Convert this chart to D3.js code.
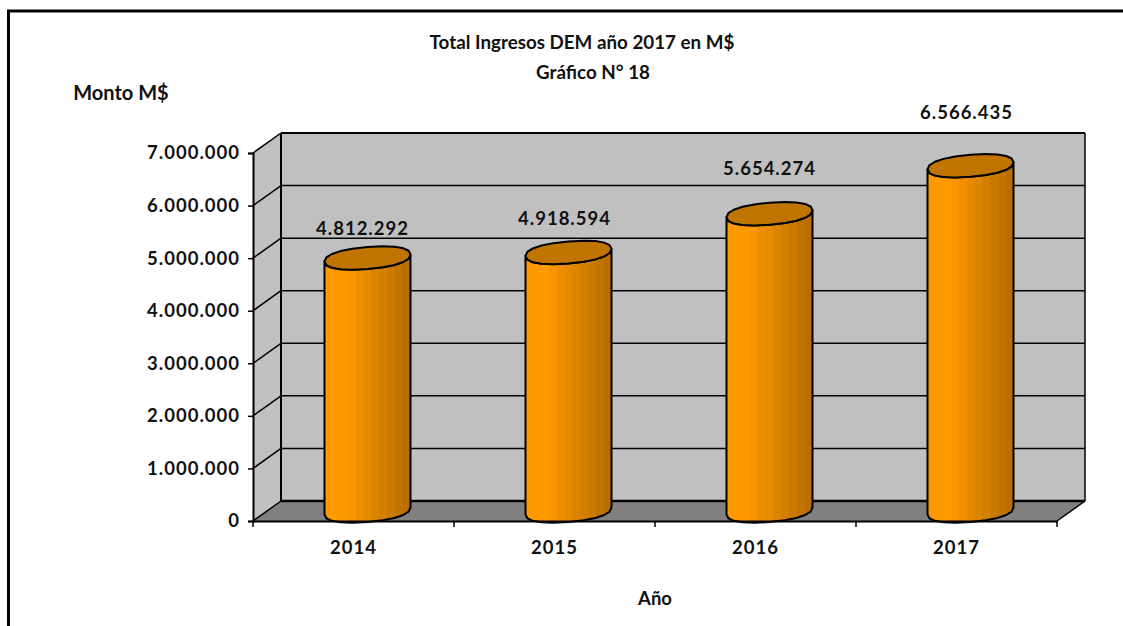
<!DOCTYPE html>
<html>
<head>
<meta charset="utf-8">
<script src="https://cdn.jsdelivr.net/npm/d3@7"></script>
<style>
  html, body { margin: 0; padding: 0; background: #fff; overflow: hidden; }
  text { font-family: Lato, "Open Sans", sans-serif; font-weight: 700; fill: #111; }
</style>
</head>
<body>
<div id="chart"></div>
<script>
const years = ["2014", "2015", "2016", "2017"];
const ingresos = [4812292, 4918594, 5654274, 6566435];
const yTicks = [0, 1000000, 2000000, 3000000, 4000000, 5000000, 6000000, 7000000];
const tickLabels = ["0", "1.000.000", "2.000.000", "3.000.000", "4.000.000", "5.000.000", "6.000.000", "7.000.000"];
const valueLabels = ["4.812.292", "4.918.594", "5.654.274", "6.566.435"];
// the labels were moved by hand in the original, they don't sit at a fixed distance
const labelShift = [{x: -5, y: -28}, {x: -4, y: -32}, {x: 0, y: -43}, {x: -4, y: -52}];

const width = 1123, height = 626;
const depth = {x: 28, y: -20};
const fontSize = 18.5, spacing = 1;

const svg = d3.select("#chart").append("svg")
    .attr("width", width)
    .attr("height", height)
    .style("display", "block");

const x = d3.scaleBand().domain(years).range([253, 1057]);
const y = d3.scaleLinear().domain([0, 7000000]).range([521, 153]);

const fmt = d => tickLabels[yTicks.indexOf(d)];

// outer frame, only left and top
svg.append("path")
    .attr("d", `M8.5,${height} L8.5,11 L${width},11`)
    .attr("fill", "none")
    .attr("stroke", "#000")
    .attr("stroke-width", 3);

// walls and floor
const [x0, x1] = x.range();
const y0 = y(0), yTop = y(7000000);
const poly = pts => "M" + pts.map(p => p.join(",")).join("L") + "Z";

svg.append("path")
    .attr("d", poly([[x0, y0], [x0 + depth.x, y0 + depth.y], [x0 + depth.x, yTop + depth.y], [x0, yTop]]))
    .attr("fill", "#c0c0c0");
svg.append("path")
    .attr("d", poly([[x0 + depth.x, y0 + depth.y], [x1 + depth.x, y0 + depth.y], [x1 + depth.x, yTop + depth.y], [x0 + depth.x, yTop + depth.y]]))
    .attr("fill", "#c0c0c0");
svg.append("path")
    .attr("d", poly([[x0, y0], [x0 + depth.x, y0 + depth.y], [x1 + depth.x, y0 + depth.y], [x1, y0]]))
    .attr("fill", "#808080");

// grid on back wall + left wall diagonals
const grid = svg.append("g").attr("stroke", "#000").attr("fill", "none");
grid.selectAll(".back")
    .data(yTicks)
    .join("line")
    .attr("x1", x0 + depth.x)
    .attr("x2", x1 + depth.x)
    .attr("y1", d => y(d) + depth.y)
    .attr("y2", d => y(d) + depth.y)
    .attr("stroke-width", d => d === 0 ? 2.5 : (d === 7000000 ? 2 : 1.5));
grid.selectAll(".diag")
    .data(yTicks)
    .join("line")
    .attr("x1", x0)
    .attr("x2", x0 + depth.x)
    .attr("y1", d => y(d))
    .attr("y2", d => y(d) + depth.y)
    .attr("stroke-width", 1.5);
grid.append("line")
    .attr("x1", x0 + depth.x).attr("x2", x0 + depth.x)
    .attr("y1", yTop + depth.y).attr("y2", y0 + depth.y)
    .attr("stroke-width", 2);
grid.append("line")
    .attr("x1", x1 + depth.x).attr("x2", x1 + depth.x)
    .attr("y1", yTop + depth.y).attr("y2", y0 + depth.y)
    .attr("stroke-width", 1.5);
grid.append("line")
    .attr("x1", x1).attr("x2", x1 + depth.x)
    .attr("y1", y0).attr("y2", y0 + depth.y)
    .attr("stroke-width", 1.5);

// cylinder shading, hard steps like the old excel gradient
const shade = d3.scaleLinear()
    .domain([0, 0.22, 1])
    .range(["#ff9900", "#ff9900", "#b86f00"]);
const steps = d3.range(11);
const grad = svg.append("defs").append("linearGradient").attr("id", "cyl");
steps.forEach(i => {
    const c = shade(i / (steps.length - 1));
    grad.append("stop").attr("offset", i / steps.length).attr("stop-color", c);
    grad.append("stop").attr("offset", (i + 1) / steps.length).attr("stop-color", c);
});

// bars, the rim is a tilted, slightly squared ellipse
const radius = 43, tilt = 3.5, flat = 11, squish = 0.88;
const pow = v => Math.sign(v) * Math.pow(Math.abs(v), squish);
const rim = (cx, cy, t) => {
    const c = pow(Math.cos(t)), s = pow(Math.sin(t));
    return [cx + radius * c, cy - tilt * c - flat * s];
};
const angles = d3.range(0, 20).map(i => i / 20 * 2 * Math.PI);
const barX = d => x(d) + x.bandwidth() / 2 + depth.x / 2;
const barBase = y(0) + depth.y / 2;

const bars = svg.append("g").selectAll("g")
    .data(years.map((d, i) => ({year: d, value: ingresos[i]})))
    .join("g");

bars.append("path")
    .attr("d", d => {
        const cx = barX(d.year), top = y(d.value) + depth.y / 2;
        const front = d3.range(0, 11).map(i => Math.PI + i / 10 * Math.PI);
        const bottom = front.map(t => rim(cx, barBase, t));
        const upper = front.slice().reverse().map(t => rim(cx, top, t));
        return "M" + bottom.concat(upper).map(p => p.join(",")).join("L") + "Z";
    })
    .attr("fill", "url(#cyl)")
    .attr("stroke", "#000")
    .attr("stroke-width", 2)
    .attr("stroke-linejoin", "round");

bars.append("path")
    .attr("d", d => {
        const cx = barX(d.year), top = y(d.value) + depth.y / 2;
        return "M" + angles.map(t => rim(cx, top, t)).map(p => p.join(",")).join("L") + "Z";
    })
    .attr("fill", "#c07500")
    .attr("stroke", "#000")
    .attr("stroke-width", 2)
    .attr("stroke-linejoin", "round");

// value labels
bars.append("text")
    .attr("x", (d, i) => barX(d.year) + labelShift[i].x)
    .attr("y", (d, i) => y(d.value) + depth.y / 2 + labelShift[i].y)
    .attr("text-anchor", "middle")
    .attr("dominant-baseline", "middle")
    .attr("font-size", fontSize)
    .attr("letter-spacing", spacing)
    .text((d, i) => valueLabels[i]);

// axes
const yAxis = d3.axisLeft(y).tickValues(yTicks).tickFormat(fmt).tickSize(5).tickPadding(8);
const gy = svg.append("g").attr("transform", `translate(${x0},0)`).call(yAxis);
const xAxis = d3.axisBottom(x).tickSize(0).tickPadding(20);
const gx = svg.append("g").attr("transform", `translate(0,${y0})`).call(xAxis);

gy.select(".domain").attr("stroke", "#000").attr("stroke-width", 2);
gy.selectAll("line").attr("stroke", "#000").attr("stroke-width", 1.5);
gy.selectAll("text").attr("font-size", fontSize).attr("letter-spacing", spacing).style("font-family", null).style("fill", "#111");
gx.select(".domain").attr("stroke", "#000").attr("stroke-width", 2);
gx.selectAll("text").attr("font-size", fontSize).attr("letter-spacing", spacing).style("font-family", null).style("fill", "#111");

// x ticks sit between the categories
svg.append("g").selectAll("line")
    .data(d3.range(years.length + 1))
    .join("line")
    .attr("x1", i => x0 + i * x.step())
    .attr("x2", i => x0 + i * x.step())
    .attr("y1", y0)
    .attr("y2", y0 + 6)
    .attr("stroke", "#000")
    .attr("stroke-width", 1.5);

// titles
const label = (txt, px, py, size) => svg.append("text")
    .attr("x", px).attr("y", py)
    .attr("text-anchor", "middle")
    .attr("dominant-baseline", "middle")
    .attr("font-size", size)
    .text(txt);

label("Total Ingresos DEM año 2017 en M$", 582, 44, 18.8);
label("Gráfico N° 18", 593, 74, 18.8);
label("Monto M$", 121, 95, 20);
label("Año", 655, 600, 18.5);
</script>
</body>
</html>
